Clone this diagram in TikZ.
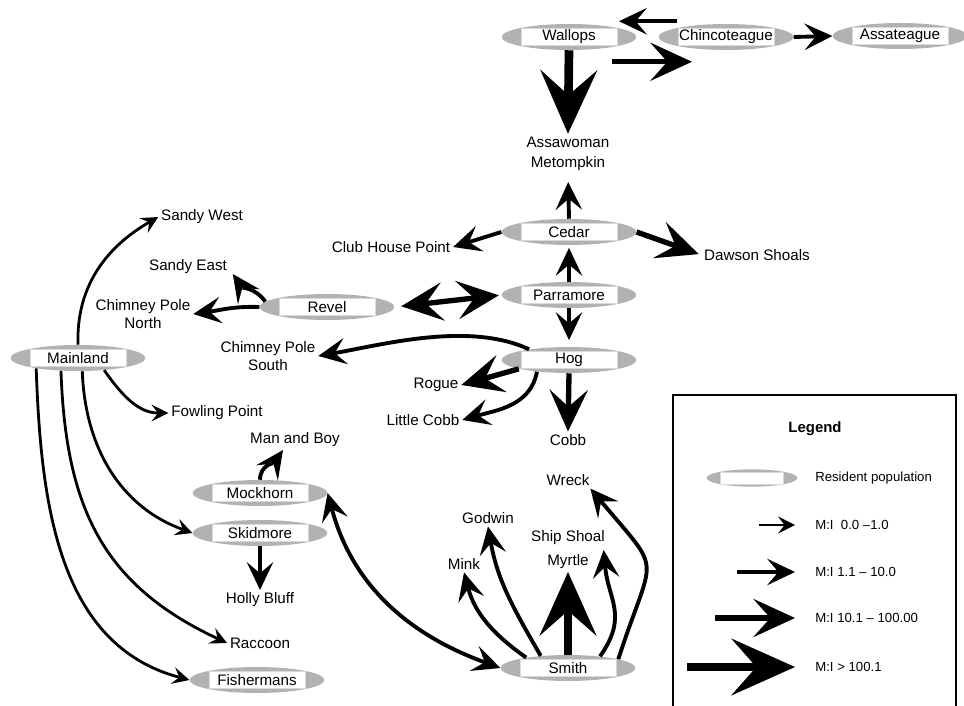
\documentclass[tikz,border=0pt]{standalone}
\usepackage{fontspec}
\setmainfont{Liberation Sans}
\usetikzlibrary{arrows.meta,shapes.geometric}

\definecolor{islegray}{gray}{0.70}

\begin{document}
\begin{tikzpicture}[
    x=0.75pt,
    y=0.75pt,
    every node/.style={
        font=\fontsize{11.4}{13.5}\selectfont
    },
    white box/.style={
        fill=white,
        draw=gray!30,
        line width=0.5pt
    },
    resident/.style={
        ellipse,
        fill=islegray,
        inner sep=0pt,
        minimum width=101pt,
        minimum height=19.5pt,
        path picture={
            \draw[white box] ([shift={(-48,-8.5)}]path picture bounding box.center)
                rectangle ([shift={(48,8.5)}]path picture bounding box.center);
        }
    },
    resident key/.style={
        ellipse,
        fill=islegray,
        inner sep=0pt,
        minimum width=68pt,
        minimum height=13pt,
        path picture={
            \draw[white box] ([shift={(-31.5,-6)}]path picture bounding box.center)
                rectangle ([shift={(31.5,6)}]path picture bounding box.center);
        }
    },
    site/.style={
        inner sep=2pt,
        align=center
    },
    key label/.style={
        anchor=west,
        inner sep=0pt,
        font=\fontsize{9.9}{12}\selectfont
    },
    headone/.tip={Stealth[length=12.8pt, width=12.8pt, inset=5pt, line width=0pt]},
    headtwo/.tip={Stealth[length=21pt, width=20pt, inset=8.5pt, line width=0pt]},
    headthree/.tip={Stealth[length=31.5pt, width=29pt, inset=13pt, line width=0pt]},
    headfour/.tip={Stealth[length=48pt, width=43pt, inset=19pt, line width=0pt]},
    flow one/.style={line width=2.1pt, -headone},
    flow two/.style={line width=2.9pt, -headtwo},
    flow three/.style={line width=4pt, -headthree},
    flow four/.style={line width=6.5pt, -headfour}
]

\path[use as bounding box, clip] (0,0) rectangle (964,-706);

% Resident populations
\node[resident] (wallops) at (569,-37) {Wallops};
\node[resident] (chinco) at (726,-37) {Chincoteague};
\node[resident] (assat) at (900,-36) {Assateague};
\node[resident] (cedar) at (569,-232) {Cedar};
\node[resident] (parramore) at (569,-295) {Parramore};
\node[resident] (hog) at (569,-360) {Hog};
\node[resident] (revel) at (327,-307) {Revel};
\node[resident] (mainland) at (78,-358) {Mainland};
\node[resident] (mockhorn) at (260,-493) {Mockhorn};
\node[resident] (skidmore) at (260,-533) {Skidmore};
\node[resident] (fishermans) at (257,-680) {Fishermans};
\node[resident] (smith) at (568,-668) {Smith};

% Other sites
\node[site] (assawoman) at (568,-142) {Assawoman};
\node[site] (metompkin) at (568,-164) {Metompkin};
\node[site] (clubhouse) at (391,-247) {Club House Point};
\node[site] (dawson) at (757,-255) {Dawson Shoals};
\node[site] (sandywest) at (202,-217) {Sandy West};
\node[site] (sandyeast) at (188,-267) {Sandy East};
\node[site] (cpnorth) at (143,-314) {Chimney Pole\\North};
\node[site] (cpsouth) at (268,-356) {Chimney Pole\\South};
\node[site] (rogue) at (436,-385) {Rogue};
\node[site] (littlecobb) at (423,-420) {Little Cobb};
\node[site] (cobb) at (568,-440) {Cobb};
\node[site] (fowling) at (217,-413) {Fowling Point};
\node[site] (manboy) at (295,-440) {Man and Boy};
\node[site] (hollybluff) at (260,-600) {Holly Bluff};
\node[site] (raccoon) at (260,-643) {Raccoon};
\node[site] (wreck) at (568,-480) {Wreck};
\node[site] (godwin) at (488,-518) {Godwin};
\node[site] (shipshoal) at (568,-538) {Ship Shoal};
\node[site] (myrtle) at (568,-562) {Myrtle};
\node[site] (mink) at (464,-564) {Mink};

% Wallops and Chincoteague
\draw[flow two] ([shift={(-49,2.5)}]chinco.north) -- ([shift={(50,2.5)}]wallops.north);
\draw[flow three] ([shift={(43,-11.5)}]wallops.south) -- ([shift={(-34,-11.5)}]chinco.south);
\draw[flow two] (chinco.east) -- (assat.west);
\draw[flow four] (wallops.south) -- (assawoman.north);

% Cedar, Parramore, Revel
\draw[flow two, shorten >=6pt] (cedar.north) -- (metompkin.south);
\draw[flow two] (cedar.west) -- (clubhouse.east);
\draw[flow three, shorten >=2pt] (cedar.east) -- (dawson.west);
\draw[flow two, shorten >=2pt] (parramore.north) -- (cedar.south);
\draw[flow two, shorten >=5pt] (parramore.south) -- (hog.north);
\draw[flow three, headthree-headthree, shorten <=5pt, shorten >=2pt] (revel.east) -- (parramore.west);
\draw[flow two] (revel.175) to[out=125, in=-55] ([shift={(3,3)}]sandyeast.south east);
\draw[flow two] (revel.west) to[out=178, in=8] (cpnorth.east);

% Hog
\draw[flow two] (hog.165) to[out=155, in=10, looseness=0.8] (cpsouth.east);
\draw[flow three] (hog.190) -- (rogue.east);
\draw[flow two] (hog.200) to[out=-100, in=16] (littlecobb.east);
\draw[flow three] (hog.south) -- (cobb.north);

% Mainland
\draw[flow one] (mainland.north) to[out=92, in=-150] (sandywest.west);
\draw[flow one] (mainland.-25) to[out=-55, in=180] (fowling.west);
\draw[flow one] (mainland.-72) to[out=-88, in=160] (skidmore.west);
\draw[flow one] (mainland.-143) to[out=-88, in=155, looseness=1.1] (raccoon.west);
\draw[flow one] (mainland.-166) to[out=-88, in=165] (fishermans.west);

% Mockhorn and Skidmore
\draw[flow two] (mockhorn.north) to[out=90, in=-125] ([shift={(-12,0)}]manboy.south);
\draw[flow two] (skidmore.south) -- (hollybluff.north);
\draw[flow two, headtwo-headtwo] (mockhorn.east) to[out=-75, in=160] (smith.west);

% Smith
\draw[flow two] (smith.166) to[out=145, in=-75] (mink.south);
\draw[flow two] (smith.156) to[out=120, in=-80] (godwin.south);
\draw[flow four] (smith.north) -- (myrtle.south);
\draw[flow two] (smith.20) to[out=55, in=-85, looseness=1.2] ([shift={(-4,-2)}]shipshoal.south east);
\draw[flow two] (smith.10) to[out=72, in=-50, looseness=1.7] ([shift={(-2,0)}]wreck.south east);

% Legend
\draw[line width=0.8pt] (673,-395) rectangle (956,-712);
\node[font=\bfseries\fontsize{11.2}{13}\selectfont] (legendtitle) at (815,-429) {Legend};
\node[resident key] (keyisle) at (752,-478) {};
\node[key label] (keyres) at (815,-478) {Resident population};
\node[key label] (keyone) at (815,-525) {M:I\ \ 0.0 –1.0};
\node[key label] (keytwo) at (815,-572) {M:I 1.1 – 10.0};
\node[key label] (keythree) at (815,-618) {M:I 10.1 – 100.00};
\node[key label] (keyfour) at (815,-667) {M:I > 100.1};
\coordinate (tailone) at (759,-525);
\coordinate (tailtwo) at (737,-572);
\coordinate (tailthree) at (715,-618);
\coordinate (tailfour) at (687,-667);
\draw[flow one] (tailone) -- ([shift={(-20,0)}]keyone.west);
\draw[flow two] (tailtwo) -- ([shift={(-20,0)}]keytwo.west);
\draw[flow three] (tailthree) -- ([shift={(-20,0)}]keythree.west);
\draw[flow four] (tailfour) -- ([shift={(-20,0)}]keyfour.west);

\end{tikzpicture}
\end{document}
